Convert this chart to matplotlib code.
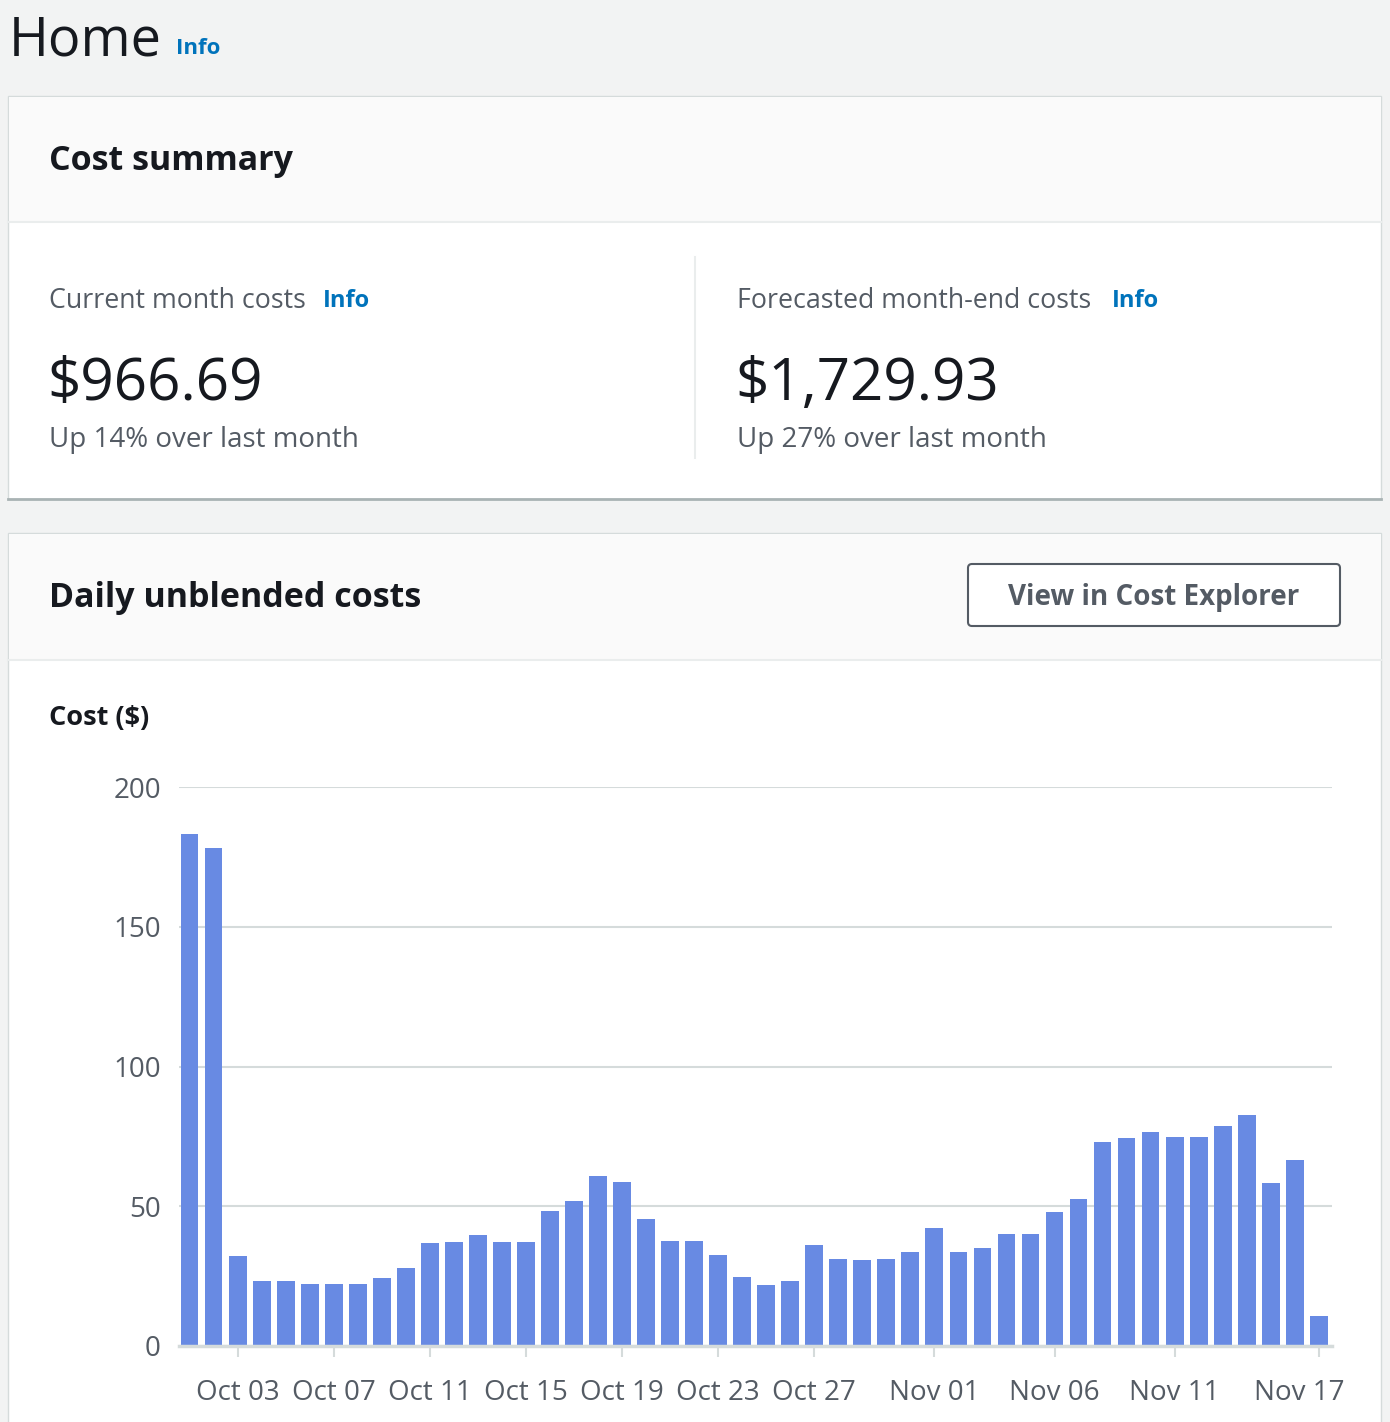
import matplotlib
matplotlib.use("Agg")
import matplotlib.pyplot as plt
from matplotlib.patches import Rectangle, FancyBboxPatch
from matplotlib.transforms import ScaledTranslation

plt.rcParams["font.family"] = ["Open Sans", "DejaVu Sans"]

# =========================
# Data
# =========================
daily_costs = [
    183.2, 178.2, 32.2, 23.3, 23.3, 22.2, 22.2, 22.2, 24.3, 27.9,
    36.9, 37.2, 39.7, 37.2, 37.2, 48.3, 51.9, 60.8, 58.7, 45.4,
    37.6, 37.6, 32.6, 24.7, 21.8, 23.3, 36.1, 31.1, 30.8, 31.1,
    33.6, 42.2, 33.6, 35.1, 40.1, 40.1, 47.9, 52.6, 73.0, 74.4,
    76.6, 74.8, 74.8, 78.7, 82.6, 58.3, 66.5, 10.7,
]
tick_days = [2, 6, 10, 14, 18, 22, 26, 31, 36, 41, 47]
tick_labels = ["Oct 03", "Oct 07", "Oct 11", "Oct 15", "Oct 19", "Oct 23",
               "Oct 27", "Nov 01", "Nov 06", "Nov 11", "Nov 17"]
y_ticks = [0, 50, 100, 150, 200]

current_cost = "$966.69"
current_change = "Up 14% over last month"
forecast_cost = "$1,729.93"
forecast_change = "Up 27% over last month"

# =========================
# Colours
# =========================
BG = "#f2f3f3"
HEAD = "#fafafa"
DARK = "#16191f"
GREY = "#545b64"
LINK = "#0073bb"
LINE = "#eaeded"
BAR = "#688ae3"

W, H = 1390, 1422
fig = plt.figure(figsize=(W / 100, H / 100), dpi=100)
fig.patch.set_facecolor(BG)

# page layer in pixel coordinates
bg = fig.add_axes([0, 0, 1, 1])
bg.set_xlim(0, W)
bg.set_ylim(H, 0)
bg.axis("off")

bg.text(9, 55, "Home", fontsize=39, color=DARK, va="baseline")
bg.text(176, 54, "Info", fontsize=16, color=LINK, weight="bold", va="baseline")

# card 1
bg.add_patch(Rectangle((8, 96), 1373, 403, fc="white", ec="#d5dbdb", lw=1))
bg.add_patch(Rectangle((8.5, 96.5), 1372, 126, fc=HEAD, ec="none"))
bg.plot([8, 1381], [222, 222], color=LINE, lw=1.5)
bg.plot([8, 1381], [499, 499], color="#a9b3b4", lw=2)
bg.plot([695, 695], [257, 458], color=LINE, lw=1.5)
bg.text(49, 170, "Cost summary", fontsize=24.5, color=DARK, weight="bold", va="baseline")

bg.text(49, 308, "Current month costs", fontsize=19.3, color=GREY, va="baseline")
bg.text(323, 307, "Info", fontsize=17, color=LINK, weight="bold", va="baseline")
bg.text(47, 400, current_cost, fontsize=42, color=DARK, va="baseline")
bg.text(49, 447, current_change, fontsize=20, color=GREY, va="baseline")

bg.text(737, 308, "Forecasted month-end costs", fontsize=19.3, color=GREY, va="baseline")
bg.text(1112, 307, "Info", fontsize=17, color=LINK, weight="bold", va="baseline")
bg.text(735, 400, forecast_cost, fontsize=42, color=DARK, va="baseline")
bg.text(737, 447, forecast_change, fontsize=20, color=GREY, va="baseline")

# card 2
bg.add_patch(Rectangle((8, 533), 1373, 950, fc="white", ec="#d5dbdb", lw=1))
bg.add_patch(Rectangle((8.5, 533.5), 1372, 126, fc=HEAD, ec="none"))
bg.plot([8, 1381], [660, 660], color=LINE, lw=1.5)
bg.text(49, 607, "Daily unblended costs", fontsize=24.5, color=DARK, weight="bold", va="baseline")
bg.add_patch(FancyBboxPatch((968, 564), 372, 62, boxstyle="round,pad=0,rounding_size=4",
                            fc="white", ec=GREY, lw=1.5))
bg.text(1154, 605, "View in Cost Explorer", fontsize=20, color=GREY, weight="bold",
        ha="center", va="baseline")
bg.text(49, 725, "Cost ($)", fontsize=19.5, color=DARK, weight="bold", va="baseline")

# =========================
# Bar chart
# =========================
ax = fig.add_axes([179 / W, (H - 1346) / H, (1332 - 179) / W, (1346 - 787) / H])
ax.patch.set_alpha(0)

x = list(range(len(daily_costs)))
ax.bar(x, daily_costs, width=0.74, color=BAR, zorder=3)

ax.set_xlim(-0.44, 47.55)
ax.set_ylim(0, 200)
ax.set_yticks(y_ticks)
ax.set_xticks(tick_days)
ax.set_xticklabels(tick_labels)
ax.grid(axis="y", color="#d5dbdb", lw=1.5, zorder=0)

for side in ["top", "right", "left"]:
    ax.spines[side].set_visible(False)
ax.spines["bottom"].set_color("#d5dbdb")
ax.spines["bottom"].set_linewidth(2.5)
ax.spines["bottom"].set_zorder(4)

ax.tick_params(axis="y", length=0, pad=13, labelsize=20, labelcolor=GREY)
ax.tick_params(axis="x", length=8, width=1.5, color="#d5dbdb", pad=16,
               labelsize=20, labelcolor=GREY)

# last label is pushed left so it stays inside the card
last = ax.get_xticklabels()[-1]
last.set_transform(last.get_transform() + ScaledTranslation(-0.2, 0, fig.dpi_scale_trans))

plt.savefig("out.png", dpi=100, facecolor=fig.get_facecolor())
